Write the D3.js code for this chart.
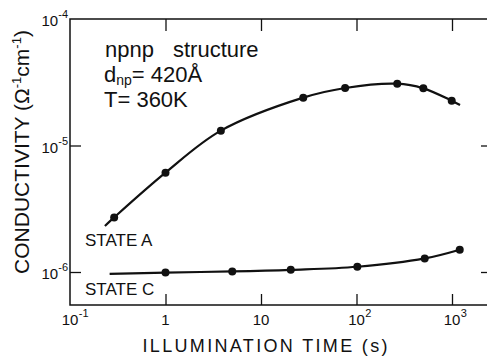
<!DOCTYPE html>
<html><head><meta charset="utf-8">
<script src="https://cdn.jsdelivr.net/npm/d3@7"></script>
<style>body{margin:0;background:#fff} svg{display:block}</style>
</head><body>
<svg id="chart" width="487" height="360"></svg>
<script>
// Measured conductivity vs. illumination time
const stateATime  = [0.29, 1.0, 3.8, 27.7, 76, 267, 501, 993];
const stateAValue = [2.7e-6, 6.1e-6, 1.31e-5, 2.39e-5, 2.85e-5, 3.08e-5, 2.83e-5, 2.26e-5];
const stateCTime  = [1.0, 5.0, 20.5, 102, 518, 1205];
const stateCValue = [0.99e-6, 1.01e-6, 1.04e-6, 1.10e-6, 1.28e-6, 1.50e-6];
// Guide-line end points extending the curves beyond the measurements
const stateAStart = [0.232, 2.31e-6];
const stateAEnd   = [1213, 2.09e-5];
const stateCStart = [0.26, 0.965e-6];

const xTickValues = [0.1, 1, 10, 100, 1000];
const xTickLabels = [["10", "-1"], ["1", ""], ["10", ""], ["10", "2"], ["10", "3"]];
const yTickValues = [1e-6, 1e-5, 1e-4];
const yTickLabels = [["10", "-6"], ["10", "-5"], ["10", "-4"]];

const svg = d3.select("#chart");
const font = "'Liberation Sans', Arial, sans-serif";
const ink = "#111";

const pLeft = 70, pRight = 492, pTop = 19, pBottom = 305;
const x = d3.scaleLog().domain([0.1, Math.pow(10, (pRight - pLeft) / 95.5 - 1)]).range([pLeft, pRight]);
const y = d3.scaleLog().domain([Math.pow(10, -6 - (pBottom - 272) / 126.5), 1e-4]).range([pBottom, pTop]);

// frame
svg.append("rect").attr("x", pLeft).attr("y", pTop)
  .attr("width", pRight - pLeft).attr("height", pBottom - pTop)
  .attr("fill", "none").attr("stroke", ink).attr("stroke-width", 1.5);

function styleAxis(g) {
  g.select(".domain").remove();
  g.selectAll("line").attr("stroke", ink).attr("stroke-width", 1.3);
  g.selectAll("text").remove();
}
svg.append("g").attr("transform", `translate(0,${pBottom})`)
  .call(d3.axisBottom(x).tickValues(xTickValues.slice(1)).tickSize(-11)).call(styleAxis);
svg.append("g").attr("transform", `translate(0,${pTop})`)
  .call(d3.axisTop(x).tickValues(xTickValues.slice(1)).tickSize(-12)).call(styleAxis);
svg.append("g").attr("transform", `translate(${pLeft},0)`)
  .call(d3.axisLeft(y).tickValues(yTickValues.slice(0, 2)).tickSize(-11)).call(styleAxis);
svg.append("g").attr("transform", `translate(${pRight},0)`)
  .call(d3.axisRight(y).tickValues(yTickValues.slice(0, 2)).tickSize(-11)).call(styleAxis);

// tick labels with superscript exponents
const xl = svg.append("g").attr("font-family", font).attr("fill", ink);
xTickValues.forEach((v, i) => {
  const [base, exp] = xTickLabels[i];
  const cx = x(v);
  xl.append("text").attr("x", cx).attr("y", 325).attr("text-anchor", "middle")
    .attr("font-size", 15).text(base);
  if (exp) {
    const w = base.length * 8.3;
    xl.append("text").attr("x", cx + w / 2 + 0.5).attr("y", 317)
      .attr("font-size", 11).text(exp);
  }
});
yTickValues.forEach((v, i) => {
  const [base, exp] = yTickLabels[i];
  const cy = y(v);
  const t = xl.append("text").attr("x", 68).attr("y", cy + 7).attr("text-anchor", "end")
    .attr("font-size", 15);
  t.append("tspan").text(base);
  t.append("tspan").attr("font-size", 11).attr("dy", -8).text(exp);
});

// axis titles
svg.append("text").attr("x", 265).attr("y", 352).attr("text-anchor", "middle")
  .attr("font-family", font).attr("font-size", 18).attr("fill", ink)
  .attr("textLength", 245).attr("lengthAdjust", "spacing")
  .text("ILLUMINATION TIME (s)");

const yt = svg.append("text")
  .attr("transform", "translate(29,152) rotate(-90)")
  .attr("text-anchor", "middle")
  .attr("font-family", font).attr("font-size", 21).attr("fill", ink);
yt.append("tspan").text("CONDUCTIVITY (Ω");
yt.append("tspan").attr("font-size", 13).attr("dy", -8).text("-1");
yt.append("tspan").attr("dy", 8).text("cm");
yt.append("tspan").attr("font-size", 13).attr("dy", -8).text("-1");
yt.append("tspan").attr("dy", 8).text(")");

// curves
const line = d3.line().x(d => x(d[0])).y(d => y(d[1])).curve(d3.curveCatmullRom.alpha(0.5));
const aPts = [stateAStart, ...stateATime.map((t, i) => [t, stateAValue[i]]), stateAEnd];
const cPts = [stateCStart, ...stateCTime.map((t, i) => [t, stateCValue[i]])];
svg.append("path").attr("d", line(aPts)).attr("fill", "none").attr("stroke", ink).attr("stroke-width", 2.2);
svg.append("path").attr("d", line(cPts)).attr("fill", "none").attr("stroke", ink).attr("stroke-width", 2.2);

const dots = svg.append("g").attr("fill", ink);
stateATime.forEach((t, i) => dots.append("circle").attr("cx", x(t)).attr("cy", y(stateAValue[i])).attr("r", 4));
stateCTime.forEach((t, i) => dots.append("circle").attr("cx", x(t)).attr("cy", y(stateCValue[i])).attr("r", 4));

// series labels
const lab = svg.append("g").attr("font-family", font).attr("font-size", 17).attr("fill", ink);
lab.append("text").attr("x", 85).attr("y", 246).text("STATE A");
lab.append("text").attr("x", 85).attr("y", 295).text("STATE C");

// sample description
const ann = svg.append("g").attr("font-family", font).attr("font-size", 22).attr("fill", ink);
ann.append("text").attr("x", 105).attr("y", 57).text("npnp");
ann.append("text").attr("x", 173).attr("y", 57).text("structure");
const d2 = ann.append("text").attr("x", 104).attr("y", 82);
d2.append("tspan").text("d");
d2.append("tspan").attr("font-size", 14).attr("dy", 3).text("np");
d2.append("tspan").attr("dy", -3).text("= 420Å");
ann.append("text").attr("x", 104).attr("y", 107).text("T= 360K");
</script>
</body></html>
